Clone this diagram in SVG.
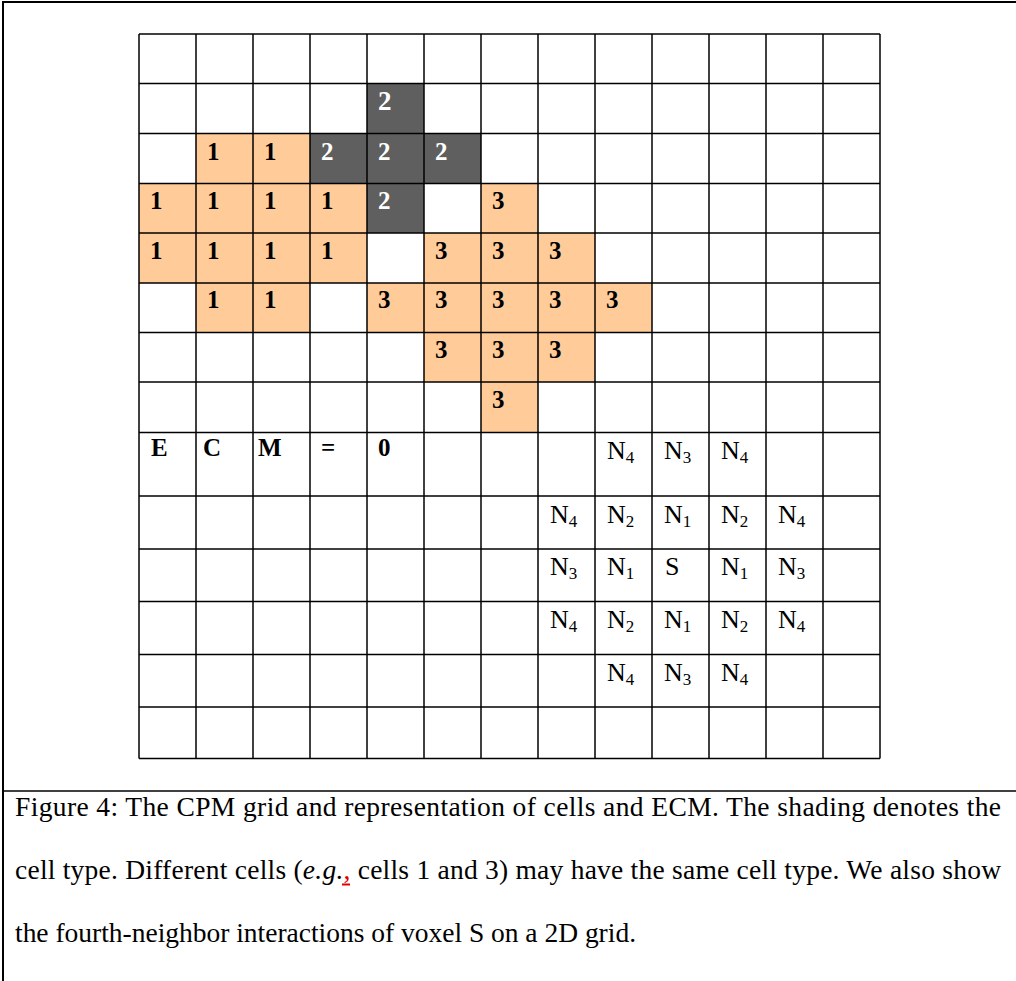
<svg xmlns="http://www.w3.org/2000/svg" width="1016" height="981" viewBox="0 0 1016 981">
<style>
.frame{fill:none;stroke:#000;stroke-width:2}
.sep{stroke:#000;stroke-width:1.5}
.gl{stroke:#000;stroke-width:1.5}
.or{fill:#ffcc99}
.dk{fill:#5f5f5f}
.b{font-family:"Liberation Serif","Times New Roman",serif;font-weight:bold;font-size:25px;fill:#000}
.w{fill:#fff}
.n{font-family:"Liberation Serif","Times New Roman",serif;font-size:26px;fill:#000}
.sub{font-size:17px}
.cap{font-family:"Liberation Serif","Times New Roman",serif;font-size:27.5px;fill:#000}
</style>
<rect x="0" y="0" width="1016" height="981" fill="#fff"/>
<rect class="frame" x="3" y="2" width="1030" height="1000"/>
<line class="sep" x1="3" y1="791" x2="1016" y2="791"/>

<g id="shading">
<rect class="dk" x="367" y="83.5" width="57" height="50"/>
<rect class="or" x="196" y="133.5" width="114" height="50"/>
<rect class="dk" x="310" y="133.5" width="171" height="50"/>
<rect class="or" x="139" y="183.5" width="228" height="49.5"/>
<rect class="dk" x="367" y="183.5" width="57" height="49.5"/>
<rect class="or" x="481" y="183.5" width="57" height="49.5"/>
<rect class="or" x="139" y="233" width="228" height="50"/>
<rect class="or" x="424" y="233" width="171" height="50"/>
<rect class="or" x="196" y="283" width="114" height="49.5"/>
<rect class="or" x="367" y="283" width="285" height="49.5"/>
<rect class="or" x="424" y="332.5" width="171" height="49.5"/>
<rect class="or" x="481" y="382" width="57" height="50.5"/>
</g>

<g id="grid">
<line class="gl" x1="139" y1="34" x2="139" y2="758.5"/>
<line class="gl" x1="196" y1="34" x2="196" y2="758.5"/>
<line class="gl" x1="253" y1="34" x2="253" y2="758.5"/>
<line class="gl" x1="310" y1="34" x2="310" y2="758.5"/>
<line class="gl" x1="367" y1="34" x2="367" y2="758.5"/>
<line class="gl" x1="424" y1="34" x2="424" y2="758.5"/>
<line class="gl" x1="481" y1="34" x2="481" y2="758.5"/>
<line class="gl" x1="538" y1="34" x2="538" y2="758.5"/>
<line class="gl" x1="595" y1="34" x2="595" y2="758.5"/>
<line class="gl" x1="652" y1="34" x2="652" y2="758.5"/>
<line class="gl" x1="709" y1="34" x2="709" y2="758.5"/>
<line class="gl" x1="766" y1="34" x2="766" y2="758.5"/>
<line class="gl" x1="823" y1="34" x2="823" y2="758.5"/>
<line class="gl" x1="880" y1="34" x2="880" y2="758.5"/>
<line class="gl" x1="139" y1="34" x2="880" y2="34"/>
<line class="gl" x1="139" y1="83.5" x2="880" y2="83.5"/>
<line class="gl" x1="139" y1="133.5" x2="880" y2="133.5"/>
<line class="gl" x1="139" y1="183.5" x2="880" y2="183.5"/>
<line class="gl" x1="139" y1="233" x2="880" y2="233"/>
<line class="gl" x1="139" y1="283" x2="880" y2="283"/>
<line class="gl" x1="139" y1="332.5" x2="880" y2="332.5"/>
<line class="gl" x1="139" y1="382" x2="880" y2="382"/>
<line class="gl" x1="139" y1="432.5" x2="880" y2="432.5"/>
<line class="gl" x1="139" y1="496" x2="880" y2="496"/>
<line class="gl" x1="139" y1="549" x2="880" y2="549"/>
<line class="gl" x1="139" y1="601.5" x2="880" y2="601.5"/>
<line class="gl" x1="139" y1="654.5" x2="880" y2="654.5"/>
<line class="gl" x1="139" y1="707" x2="880" y2="707"/>
<line class="gl" x1="139" y1="758.5" x2="880" y2="758.5"/>
</g>

<g id="cell-labels">
<text class="b w" x="378" y="110" style="font-size:27px">2</text>
<text class="b" x="207" y="160">1</text>
<text class="b" x="264" y="160">1</text>
<text class="b w" x="321" y="160">2</text>
<text class="b w" x="378" y="160">2</text>
<text class="b w" x="435" y="160">2</text>
<text class="b" x="150" y="209">1</text>
<text class="b" x="207" y="209">1</text>
<text class="b" x="264" y="209">1</text>
<text class="b" x="321" y="209">1</text>
<text class="b w" x="378" y="209">2</text>
<text class="b" x="492" y="209">3</text>
<text class="b" x="150" y="258.5">1</text>
<text class="b" x="207" y="258.5">1</text>
<text class="b" x="264" y="258.5">1</text>
<text class="b" x="321" y="258.5">1</text>
<text class="b" x="435" y="258.5">3</text>
<text class="b" x="492" y="258.5">3</text>
<text class="b" x="549" y="258.5">3</text>
<text class="b" x="207" y="308">1</text>
<text class="b" x="264" y="308">1</text>
<text class="b" x="378" y="308">3</text>
<text class="b" x="435" y="308">3</text>
<text class="b" x="492" y="308">3</text>
<text class="b" x="549" y="308">3</text>
<text class="b" x="606" y="308">3</text>
<text class="b" x="435" y="357.5">3</text>
<text class="b" x="492" y="357.5">3</text>
<text class="b" x="549" y="357.5">3</text>
<text class="b" x="492" y="407.5">3</text>
</g>

<g id="ecm-label">
<text class="b" x="151" y="456">E</text>
<text class="b" x="203" y="456">C</text>
<text class="b" x="258" y="456">M</text>
<text class="b" x="321" y="456">=</text>
<text class="b" x="378" y="456">0</text>
</g>

<g id="neighbors">
<text class="n" x="607" y="459">N<tspan class="sub" dy="4">4</tspan></text>
<text class="n" x="664" y="459">N<tspan class="sub" dy="4">3</tspan></text>
<text class="n" x="721" y="459">N<tspan class="sub" dy="4">4</tspan></text>

<text class="n" x="550" y="522.5">N<tspan class="sub" dy="4">4</tspan></text>
<text class="n" x="607" y="522.5">N<tspan class="sub" dy="4">2</tspan></text>
<text class="n" x="664" y="522.5">N<tspan class="sub" dy="4">1</tspan></text>
<text class="n" x="721" y="522.5">N<tspan class="sub" dy="4">2</tspan></text>
<text class="n" x="778" y="522.5">N<tspan class="sub" dy="4">4</tspan></text>

<text class="n" x="550" y="575">N<tspan class="sub" dy="4">3</tspan></text>
<text class="n" x="607" y="575">N<tspan class="sub" dy="4">1</tspan></text>
<text class="n" x="665" y="575">S</text>
<text class="n" x="721" y="575">N<tspan class="sub" dy="4">1</tspan></text>
<text class="n" x="778" y="575">N<tspan class="sub" dy="4">3</tspan></text>

<text class="n" x="550" y="628">N<tspan class="sub" dy="4">4</tspan></text>
<text class="n" x="607" y="628">N<tspan class="sub" dy="4">2</tspan></text>
<text class="n" x="664" y="628">N<tspan class="sub" dy="4">1</tspan></text>
<text class="n" x="721" y="628">N<tspan class="sub" dy="4">2</tspan></text>
<text class="n" x="778" y="628">N<tspan class="sub" dy="4">4</tspan></text>

<text class="n" x="607" y="681">N<tspan class="sub" dy="4">4</tspan></text>
<text class="n" x="664" y="681">N<tspan class="sub" dy="4">3</tspan></text>
<text class="n" x="721" y="681">N<tspan class="sub" dy="4">4</tspan></text>
</g>

<g id="caption">
<text class="cap" x="15" y="816" textLength="986" lengthAdjust="spacing">Figure 4: The CPM grid and representation of cells and ECM. The shading denotes the</text>
<text class="cap" x="15" y="879" textLength="986" lengthAdjust="spacing">cell type. Different cells (<tspan font-style="italic">e.g.</tspan><tspan fill="#e00000">,</tspan> cells 1 and 3) may have the same cell type. We also show</text>
<text class="cap" x="15" y="942" textLength="621" lengthAdjust="spacing">the fourth-neighbor interactions of voxel S on a 2D grid.</text>
<line x1="342" y1="884.5" x2="350" y2="884.5" stroke="#e00000" stroke-width="2"/>
</g>
</svg>
